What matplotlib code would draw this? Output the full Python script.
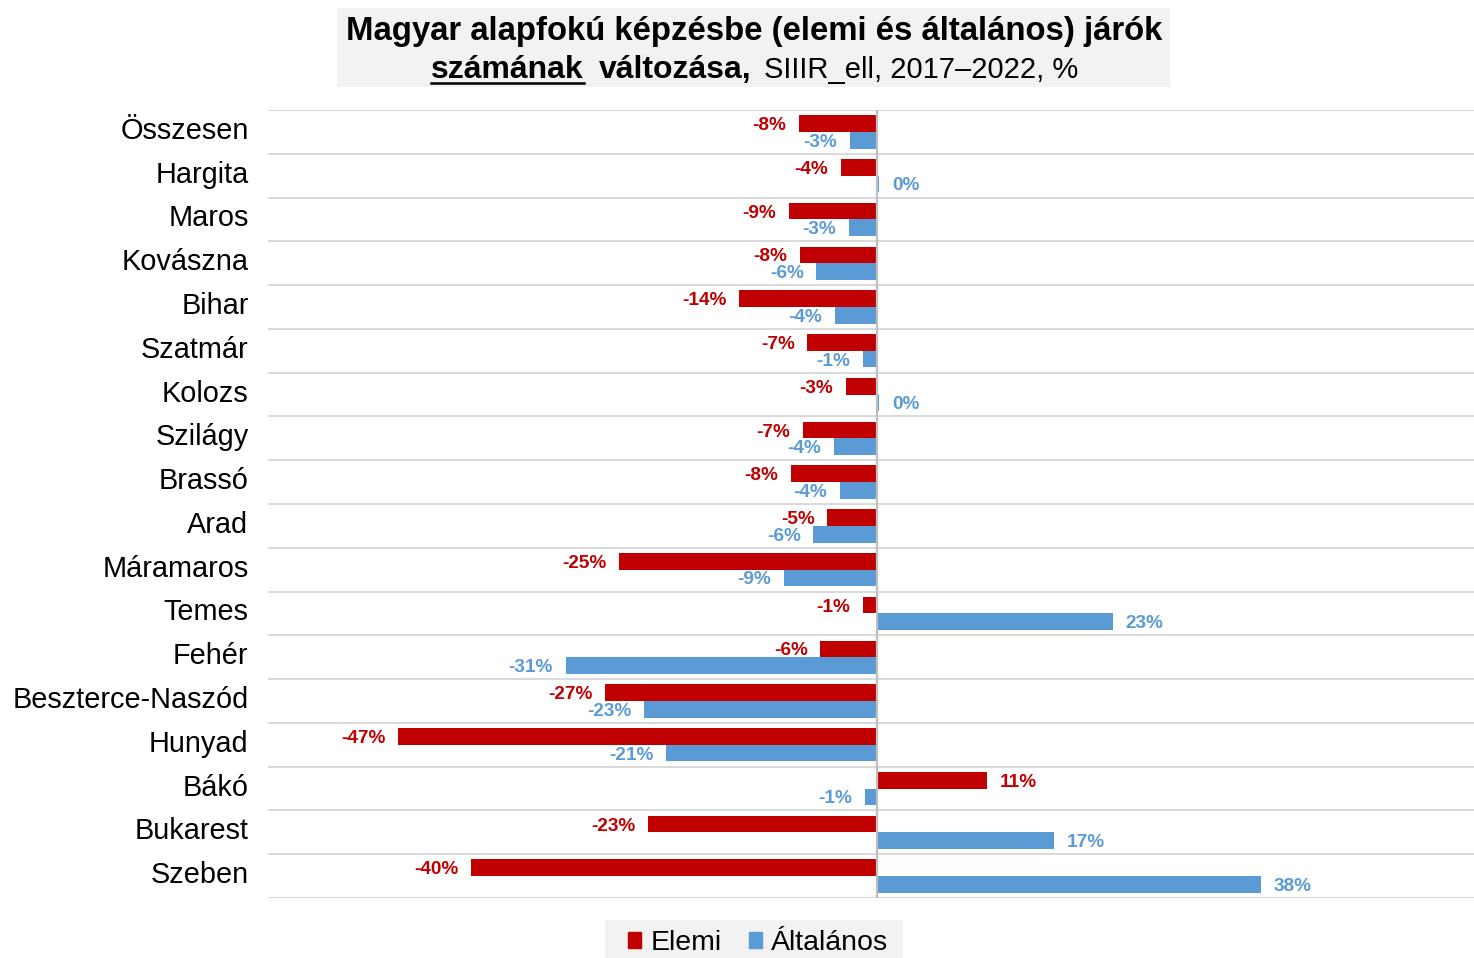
import matplotlib
matplotlib.use('Agg')
import matplotlib.pyplot as plt
import matplotlib.transforms as mtransforms
import numpy as np
from matplotlib.patches import Rectangle, Patch
from matplotlib.lines import Line2D

categories = ["Összesen", "Hargita", "Maros", "Kovászna", "Bihar", "Szatmár",
              "Kolozs", "Szilágy", "Brassó", "Arad", "Máramaros", "Temes",
              "Fehér", "Beszterce-Naszód", "Hunyad", "Bákó", "Bukarest", "Szeben"]
elemi = [-7.7, -3.6, -8.7, -7.6, -13.6, -6.9, -3.1, -7.3, -8.5, -4.9, -25.4, -1.4,
         -5.6, -26.8, -47.2, 10.8, -22.6, -40.0]
altalanos = [-2.7, 0.2, -2.8, -6.0, -4.2, -1.45, 0.2, -4.3, -3.7, -6.3, -9.2, 23.2,
             -30.7, -23.0, -20.8, -1.2, 17.4, 37.8]
series_names = ["Elemi", "Általános"]

RED = "#C00000"
BLUE = "#5B9BD5"
FONT = "Liberation Sans"

W, H = 1474, 958
plt.rcParams['font.family'] = [FONT, 'DejaVu Sans']
fig = plt.figure(figsize=(W / 100, H / 100), dpi=100)


def fx(x):
    return x / W


def fy(y):
    return 1 - y / H


ax = fig.add_axes([fx(268), fy(898), (1474 - 268) / W, (898 - 110) / H])
n = len(categories)
y = np.arange(n)
h = 0.38
b1 = ax.barh(y - h / 2, elemi, height=h, color=RED, zorder=2)
b2 = ax.barh(y + h / 2, altalanos, height=h, color=BLUE, zorder=2)
ax.set_ylim(n - 0.5, -0.5)
ax.set_xlim(-60, 58.77)


def fmt(v):
    return "{:.0f}%".format(v)


lab1 = ax.bar_label(b1, labels=[fmt(v) for v in elemi], padding=9, color=RED,
                    fontsize=13.7, fontweight='bold')
lab2 = ax.bar_label(b2, labels=[fmt(v) for v in altalanos], padding=9, color=BLUE,
                    fontsize=13.7, fontweight='bold')
for t in list(lab1) + list(lab2):
    t.set_va('center_baseline')

ax.set_yticks(y)
ax.set_yticklabels(categories, fontsize=20.8, va='center')
ax.tick_params(axis='y', which='major', length=0, pad=14)
shift = mtransforms.ScaledTranslation(0, 1 / 100, fig.dpi_scale_trans)
for lab in ax.get_yticklabels():
    lab.set_transform(lab.get_transform() + shift)
ax.set_yticks(np.arange(-0.5, n), minor=True)
ax.tick_params(axis='y', which='minor', length=0)
ax.set_xticks([])
ax.grid(which='minor', axis='y', color='#D9D9D9', lw=1.4)
ax.set_axisbelow(True)
for s in ax.spines.values():
    s.set_visible(False)
ax.axvline(0, color='#BFBFBF', lw=1.6, zorder=3)

# Title
fig.patches.append(Rectangle((fx(337), fy(87)), (1170 - 337) / W, (87 - 8) / H,
                             transform=fig.transFigure, facecolor='#F2F2F2',
                             edgecolor='none', zorder=0))
fig.text(fx(754), fy(40), "Magyar alapfokú képzésbe (elemi és általános) járók",
         ha='center', va='baseline', fontsize=23.7, fontweight='bold')

renderer = fig.canvas.get_renderer()
pieces = [("számának", 'bold', 23, True),
          ("változása,", 'bold', 23, False),
          ("SIIIR_ell, 2017–2022, %", 'normal', 21, False)]
gaps = [15, 13]
texts = []
widths = []
for s, w, fs, ul in pieces:
    t = fig.text(0, fy(78), s, ha='left', va='baseline', fontsize=fs, fontweight=w)
    texts.append(t)
    widths.append(t.get_window_extent(renderer).width)
total = sum(widths) + sum(gaps)
x0 = 755 - total / 2
for i, (t, (s, w, fs, ul)) in enumerate(zip(texts, pieces)):
    t.set_x(fx(x0))
    if ul:
        fig.add_artist(Line2D([fx(x0), fx(x0 + widths[i])], [fy(83), fy(83)],
                              transform=fig.transFigure, color='black', lw=1.8))
    x0 += widths[i] + (gaps[i] if i < len(gaps) else 0)

# Legend
fig.patches.append(Rectangle((fx(605), fy(958)), (903 - 605) / W, (958 - 920) / H,
                             transform=fig.transFigure, facecolor='#F2F2F2',
                             edgecolor='none', zorder=0))
handles = [Patch(color=RED, label=series_names[0]), Patch(color=BLUE, label=series_names[1])]
fig.legend(handles=handles, loc='center', bbox_to_anchor=(fx(758), fy(943)), ncol=2,
           frameon=False, fontsize=20.5, handlelength=0.46, handleheight=0.46,
           handletextpad=0.32, columnspacing=0.95, borderpad=0.2)

fig.savefig("out.png", dpi=100)
